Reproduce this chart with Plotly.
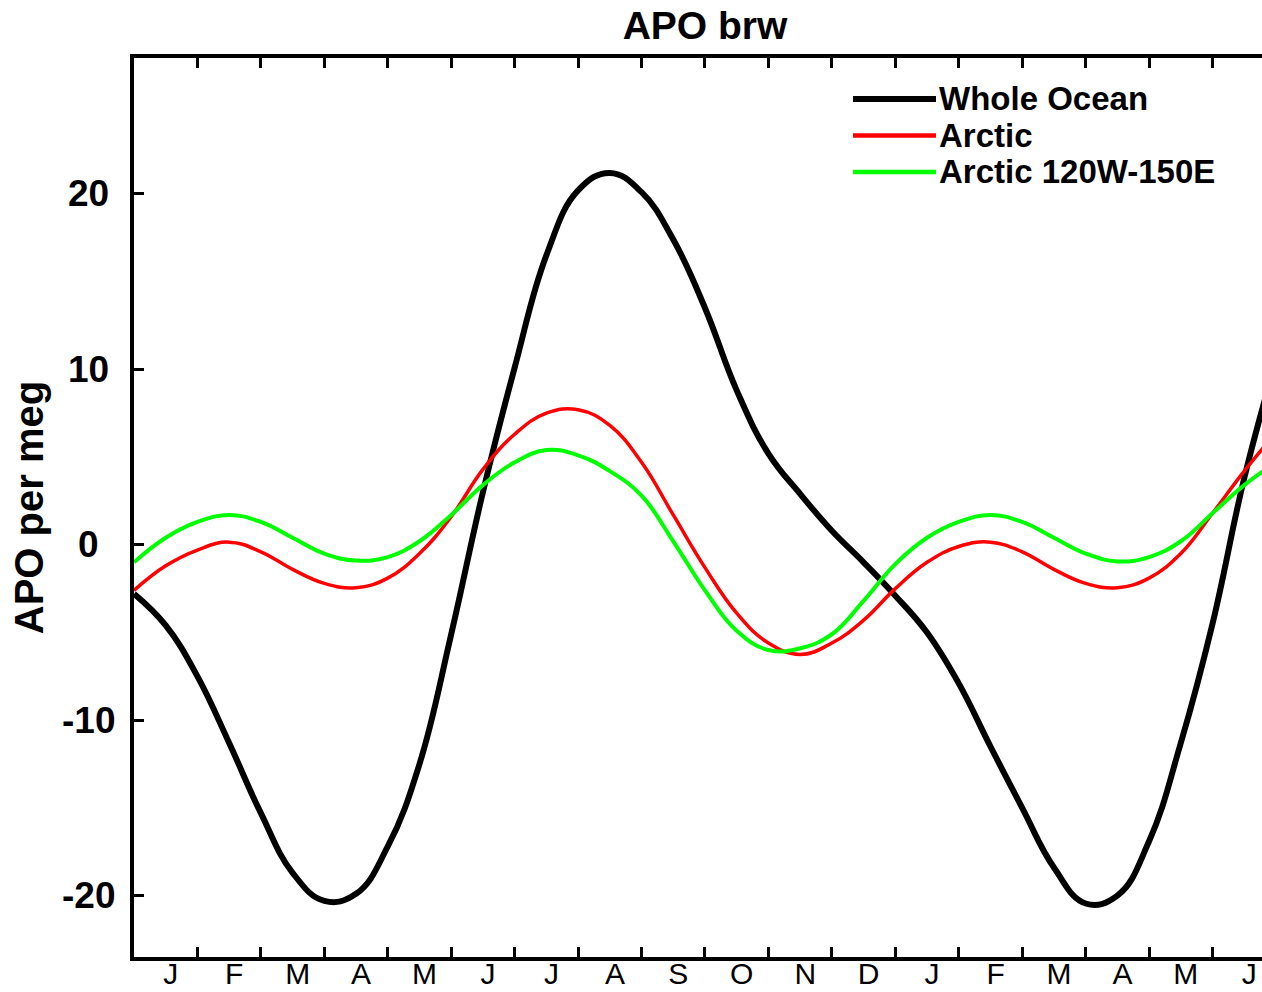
import plotly.graph_objects as go

# ---- data (month index: 0 = start of January, 18 months shown) ----
x_months = [0.0, 0.5, 1.0, 1.5, 2.0, 2.5, 3.0, 3.5, 4.0, 4.5, 5.0, 5.5,
            6.0, 6.5, 7.0, 7.5, 8.0, 8.5, 9.0, 9.5, 10.0, 10.5, 11.0, 11.5,
            12.0, 12.5, 13.0, 13.5, 14.0, 14.5, 15.0, 15.5, 16.0, 16.5, 17.0, 17.5, 18.0]

whole_ocean = [-2.8, -4.6, -7.5, -11.3, -15.3, -18.7, -20.3, -19.9, -17.2, -12.5, -5.1, 3.0,
               10.1, 16.5, 20.2, 21.2, 20.1, 17.4, 13.5, 8.8, 5.2, 2.9, 0.8, -1.0,
               -2.9, -5.0, -7.9, -11.5, -15.0, -18.4, -20.45, -20.0, -16.9, -11.3, -4.5, 3.8, 10.5]

arctic = [-2.6, -1.2, -0.3, 0.15, -0.4, -1.4, -2.2, -2.45, -1.9, -0.5, 1.6, 4.3,
          6.3, 7.5, 7.7, 6.8, 4.7, 1.7, -1.3, -3.9, -5.6, -6.25, -5.6, -4.3,
          -2.5, -1.0, -0.1, 0.15, -0.4, -1.4, -2.2, -2.45, -1.9, -0.5, 1.8, 4.2, 6.4]

arctic_120w_150e = [-1.0, 0.4, 1.3, 1.7, 1.3, 0.4, -0.5, -0.9, -0.7, 0.2, 1.7, 3.4,
                    4.7, 5.4, 5.1, 4.2, 2.8, 0.2, -2.6, -4.9, -6.0, -5.9, -5.1, -3.2,
                    -1.1, 0.4, 1.3, 1.7, 1.3, 0.4, -0.5, -0.95, -0.7, 0.2, 1.8, 3.4, 4.7]

month_boundaries = [0, 1, 2, 3, 4, 5, 6, 7, 8, 9, 10, 11, 12, 13, 14, 15, 16, 17, 18]
month_centers = [0.5, 1.5, 2.5, 3.5, 4.5, 5.5, 6.5, 7.5, 8.5, 9.5, 10.5, 11.5,
                 12.5, 13.5, 14.5, 15.5, 16.5, 17.5]
month_labels = ["J", "F", "M", "A", "M", "J", "J", "A", "S", "O", "N", "D",
                "J", "F", "M", "A", "M", "J"]
y_ticks = [-20, -10, 0, 10, 20]
y_tick_text = ["-20", "-10", "0", "10", "20"]

series_names = ["Whole Ocean", "Arctic", "Arctic 120W-150E"]
series_values = [whole_ocean, arctic, arctic_120w_150e]
series_colors = ["#000000", "#ff0000", "#00ff00"]
series_widths = [6, 3.5, 4]

# ---- layout geometry (pixels) ----
W, H = 1262, 992
L, R, T, B = 134, 0, 58, 34.5
PW, PH = W - L - R, H - T - B
X_RANGE = [0, 17.78]
X_LABEL_SHIFT = 0.08          # labels sit slightly right of month centres
Y_RANGE = [-23.5, 27.75]
FONT = "Liberation Sans, Arial, Helvetica, sans-serif"


def px_x(px):
    return (px - L) / PW


def px_y(py):
    return (H - B - py) / PH


fig = go.Figure()
for name, vals, col, w in zip(series_names, series_values, series_colors, series_widths):
    fig.add_trace(go.Scatter(
        x=x_months, y=vals, mode="lines", name=name,
        line=dict(color=col, width=w, shape="spline", smoothing=1.2),
        showlegend=False, hoverinfo="x+y+name"))

# dummy trace carrying the month-label axis
fig.add_trace(go.Scatter(x=month_centers, y=[None] * len(month_centers), xaxis="x2",
                         mode="lines", showlegend=False, hoverinfo="skip"))

# y tick labels, centred in the left margin
for val, txt in zip(y_ticks, y_tick_text):
    fig.add_annotation(text=txt, xref="paper", yref="y", x=px_x(88), y=val,
                       xanchor="center", yanchor="middle", showarrow=False, borderpad=0,
                       font=dict(family=FONT, size=37, color="black", weight="bold"))

# legend drawn as swatches + labels
legend_rows_px = [99, 135.5, 172]
swatch_widths = [6, 4.5, 4.5]
for name, col, sw, ypx in zip(series_names, series_colors, swatch_widths, legend_rows_px):
    fig.add_shape(type="line", xref="paper", yref="paper",
                  x0=px_x(853), x1=px_x(936), y0=px_y(ypx), y1=px_y(ypx),
                  line=dict(color=col, width=sw))
    fig.add_annotation(text=name, xref="paper", yref="paper", x=px_x(938), y=px_y(ypx),
                       xanchor="left", yanchor="middle", showarrow=False, borderpad=0,
                       font=dict(family=FONT, size=33, color="black", weight="bold"))

fig.update_layout(
    width=W, height=H,
    margin=dict(l=L, r=R, t=T, b=B, pad=0, autoexpand=False),
    plot_bgcolor="white", paper_bgcolor="white",
    showlegend=False,
    font=dict(family=FONT, color="black"),
    title=dict(text="APO brw", x=px_x(705), xref="paper", xanchor="center",
               y=1 - 25 / H, yref="container", yanchor="middle",
               font=dict(family=FONT, size=39, color="black", weight="bold")),
    xaxis=dict(range=X_RANGE, tickvals=month_boundaries, ticks="inside", ticklen=10,
               tickwidth=3, tickcolor="black", showticklabels=False,
               showline=True, linewidth=4, linecolor="black", mirror="ticks",
               showgrid=False, zeroline=False, automargin=False),
    xaxis2=dict(overlaying="x", anchor="y", side="bottom",
                range=[X_RANGE[0] - X_LABEL_SHIFT, X_RANGE[1] - X_LABEL_SHIFT],
                tickvals=month_centers, ticktext=month_labels, ticks="",
                showline=False, showgrid=False, zeroline=False, automargin=False,
                ticklabelstandoff=-4,
                tickfont=dict(family=FONT, size=30, color="black")),
    yaxis=dict(range=Y_RANGE, tickvals=y_ticks, ticks="inside", ticklen=10,
               tickwidth=3, tickcolor="black", showline=True, linewidth=4,
               linecolor="black", mirror=False, showgrid=False, zeroline=False,
               automargin=False, showticklabels=False,
               title=dict(text="APO per meg", standoff=75,
                          font=dict(family=FONT, size=40, color="black", weight="bold"))),
)

fig.write_html("out.html")
